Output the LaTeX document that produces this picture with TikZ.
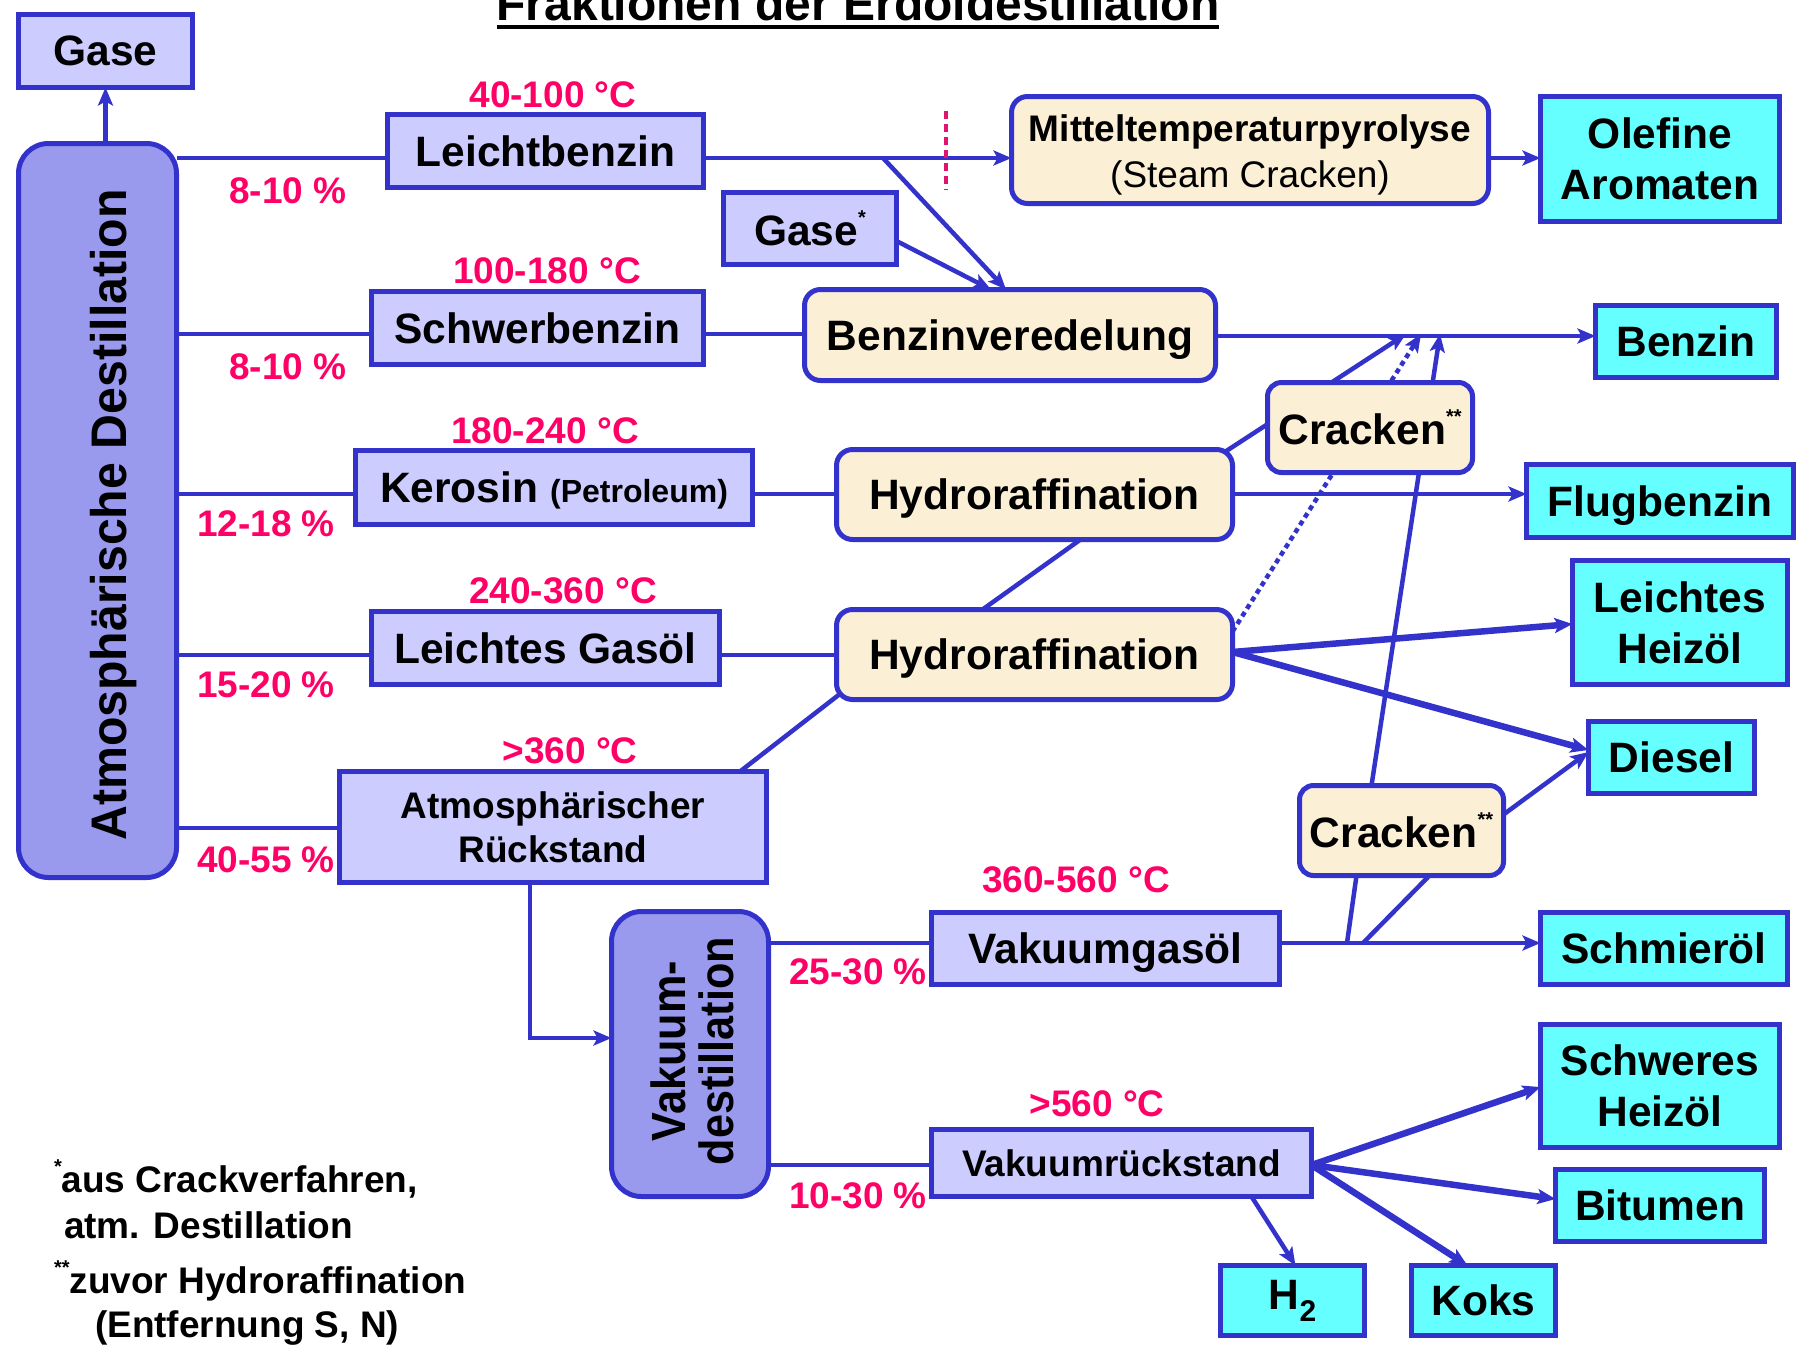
\documentclass[tikz,border=0pt]{standalone}
\usepackage{fontspec}
\usepackage{graphicx}
\setmainfont{Liberation Sans}
\usetikzlibrary{arrows.meta}
\pgfdeclarelayer{bg}
\pgfsetlayers{bg,main}

\definecolor{edge}{RGB}{51,51,204}
\definecolor{lav}{RGB}{204,204,255}
\definecolor{lavdark}{RGB}{153,153,238}
\definecolor{cream}{RGB}{251,239,214}
\definecolor{prodcol}{RGB}{102,255,255}
\definecolor{hot}{RGB}{255,0,102}
\definecolor{pinkdot}{RGB}{222,20,110}

\newcommand\supstar[1]{\raisebox{0.5em}{\fontsize{20}{20}\selectfont #1}}

\begin{document}
\begin{tikzpicture}[x=1pt,y=-1pt,
  every node/.style={inner sep=0pt, outer sep=0pt},
  box/.style={draw=edge, line width=5pt, align=center,
              font=\fontsize{42.5}{51}\selectfont\bfseries},
  frac/.style={box, fill=lav},
  proc/.style={box, fill=cream, rounded corners=16pt},
  prodbox/.style={box, fill=prodcol},
  flat/.style={text depth=0pt},
  column/.style={draw=edge, line width=5pt, fill=lavdark, rounded corners=30pt},
  txtM/.style={font=\fontsize{37}{44}\selectfont\bfseries},
  lbl/.style={text=hot, font=\fontsize{37}{44}\selectfont\bfseries},
  ln/.style={draw=edge, line width=4.5pt},
  lnT/.style={draw=edge, line width=6.5pt},
  tip/.style={-{Stealth[length=18pt,width=15pt,inset=4pt]}},
  arr/.style={ln, tip},
  arrT/.style={lnT, tip}
]
\useasboundingbox (0,0) rectangle (1798,1350);
\clip (0,0) rectangle (1798,1350);

% title
\node[anchor=base, font=\fontsize{48}{56}\selectfont\bfseries] (title) at (858,20)
  {Fraktionen der Erdöldestillation};
\draw[line width=3.5pt] ([yshift=-7pt]title.base west) -- ([yshift=-7pt]title.base east);

% distillation columns
\node[column, minimum width=158pt, minimum height=734pt] (adest) at (97.5,510.5) {};
\node[rotate=90, font=\fontsize{50}{58}\selectfont\bfseries] (adesttxt) at (114,515)
  {\scalebox{0.965}[1]{Atmosphärische Destillation}};
\node[column, minimum width=157pt, minimum height=285pt] (vak) at (690,1054) {};
\node[rotate=90, align=center, font=\fontsize{48}{48}\selectfont\bfseries] (vaktxt) at (692,1051)
  {\scalebox{0.9}[1]{Vakuum-}\\\scalebox{0.9}[1]{destillation}};

% gases at the top of the column
\node[frac, minimum width=174pt, minimum height=73pt, yshift=-2pt] (gasetop) at (105.5,49) {Gase};

% fractions of the atmospheric distillation
\node[frac, minimum width=316pt, minimum height=73pt] (leicht) at (545.5,151) {Leichtbenzin};
\node[frac, minimum width=332pt, minimum height=73pt] (schwer) at (537.5,328) {Schwerbenzin};
\node[frac, flat, minimum width=397pt, minimum height=74pt] (kero) at (554,487.5)
  {Kerosin {\fontsize{32}{38}\selectfont (Petroleum)}};
\node[frac, minimum width=348pt, minimum height=73pt] (lgas) at (545.5,648) {Leichtes Gasöl};
\node[frac, txtM, minimum width=427pt, minimum height=111pt] (atmr) at (553,827)
  {Atmosphärischer\\Rückstand};
\node[frac, minimum width=173pt, minimum height=72pt] (gstar) at (810,228.5) {Gase\supstar{*}};

% vacuum fractions
\node[frac, flat, minimum width=348pt, minimum height=72pt] (vgas) at (1105.5,948.5) {Vakuumgasöl};
\node[frac, txtM, minimum width=380pt, minimum height=67pt] (vrueck) at (1121.5,1163) {Vakuumrückstand};

% processes
\node[proc, minimum width=477pt, minimum height=107pt] (pyro) at (1250,150) {};
\node[txtM, align=center] (pyrotxt) at (1250,155)
  {Mitteltemperaturpyrolyse\\[2pt]\mdseries (Steam Cracken)};
\node[proc, flat, minimum width=411pt, minimum height=91pt] (bveredel) at (1010,335) {Benzinveredelung};
\node[proc, flat, minimum width=396pt, minimum height=90pt] (hydroA) at (1034.5,494.5) {Hydroraffination};
\node[proc, flat, minimum width=396pt, minimum height=90pt] (hydroB) at (1034.5,654.5) {Hydroraffination};
\node[proc, rounded corners=14pt, minimum width=205pt, minimum height=90pt] (crackA) at (1370,427.5) {Cracken\supstar{**}};
\node[proc, rounded corners=14pt, minimum width=204pt, minimum height=90pt] (crackB) at (1401.5,830.5) {Cracken\supstar{**}};

% products
\node[prodbox, minimum width=239pt, minimum height=125pt] (olef) at (1660,159) {Olefine\\Aromaten};
\node[prodbox, minimum width=181pt, minimum height=72pt] (benzin) at (1686,341.5) {Benzin};
\node[prodbox, flat, minimum width=267pt, minimum height=73pt] (flug) at (1660,501) {Flugbenzin};
\node[prodbox, minimum width=215pt, minimum height=124pt] (lheiz) at (1680,622.5) {Leichtes\\Heizöl};
\node[prodbox, minimum width=166pt, minimum height=72pt] (diesel) at (1671.5,757.5) {Diesel};
\node[prodbox, minimum width=247pt, minimum height=72pt] (schmier) at (1664,948.5) {Schmieröl};
\node[prodbox, minimum width=239pt, minimum height=123pt] (sheiz) at (1660,1086) {Schweres\\Heizöl};
\node[prodbox, minimum width=209pt, minimum height=72pt] (bitumen) at (1660,1205.5) {Bitumen};
\node[prodbox, minimum width=144pt, minimum height=70pt] (htwo) at (1292.5,1300.5)
  {H\raisebox{-0.28em}{\fontsize{30}{30}\selectfont 2}};
\node[prodbox, minimum width=144pt, minimum height=70pt] (koks) at (1483.5,1300.5) {Koks};

% boiling ranges and yields
\node[lbl] (t1) at (553,95) {40-100 °C};
\node[lbl] (p1) at (288,191) {8-10 \%};
\node[lbl] (t2) at (547,271) {100-180 °C};
\node[lbl] (p2) at (288,367) {8-10 \%};
\node[lbl] (t3) at (545,431) {180-240 °C};
\node[lbl] (p3) at (266,524) {12-18 \%};
\node[lbl] (t4) at (563,591) {240-360 °C};
\node[lbl] (p4) at (266,685) {15-20 \%};
\node[lbl] (t5) at (570,751) {>360 °C};
\node[lbl] (p5) at (266,860) {40-55 \%};
\node[lbl] (t6) at (1076,880) {360-560 °C};
\node[lbl] (p6) at (858,972) {25-30 \%};
\node[lbl] (t7) at (1097,1104) {>560 °C};
\node[lbl] (p7) at (858,1196) {10-30 \%};

% footnotes
\node[txtM, anchor=base west] (fn1) at (54,1192) {\supstar{*}aus Crackverfahren,};
\node[txtM, anchor=base west] (fn2) at (64,1238) {atm. Destillation};
\node[txtM, anchor=base west] (fn3) at (54,1293) {\supstar{**}zuvor Hydroraffination};
\node[txtM, anchor=base west] (fn4) at (95,1337) {(Entfernung S, N)};

% free ends on the gasoline stream
\coordinate (bzA) at (1406,334);
\coordinate (bzB) at (1421,334);
\coordinate (bzC) at (1440,334);
\coordinate (lbsplit) at (883,158);
\coordinate (vgA) at (1347,943);
\coordinate (vgB) at (1363,943);

\begin{pgfonlayer}{bg}
  % column to gases
  \draw[arr] (adest.north -| gasetop.south) -- (gasetop.south);
  % column draw-offs
  \draw[ln] (adest.east |- 0,158) -- (leicht.west |- 0,158);
  \draw[ln] (adest.east |- 0,334) -- (schwer.west |- 0,334);
  \draw[ln] (adest.east |- 0,494) -- (kero.west |- 0,494);
  \draw[ln] (adest.east |- 0,655) -- (lgas.west |- 0,655);
  \draw[ln] (adest.east |- 0,828) -- (atmr.west |- 0,828);
  % light naphtha
  \draw[arr] (leicht.east |- 0,158) -- (pyro.west |- 0,158);
  \draw[arr] (pyro.east |- 0,158) -- (olef.west |- 0,158);
  \draw[arr] (lbsplit) -- ([xshift=-4pt]bveredel.north);
  \draw[arr] (gstar.east |- 0,241) -- ([xshift=-19pt]bveredel.north);
  % heavy naphtha
  \draw[ln] (schwer.east |- 0,334) -- (bveredel.west |- 0,334);
  \draw[arr] (bveredel.east |- 0,336) -- (benzin.west |- 0,336);
  % kerosene
  \draw[ln] (kero.east |- 0,494) -- (hydroA.west |- 0,494);
  \draw[arr] (hydroA.east |- 0,494) -- (flug.west |- 0,494);
  % light gas oil
  \draw[ln] (lgas.east |- 0,655) -- (hydroB.west |- 0,655);
  \draw[ln] ([xshift=46pt]hydroA.south) -- ([xshift=-52pt]hydroB.north);
  \draw[ln] ([xshift=187pt]atmr.north) -- ([xshift=4pt,yshift=6pt]hydroB.south west);
  \draw[arrT] (hydroB.east |- 0,652) -- (lheiz.west |- 0,624);
  \draw[arrT] (hydroB.east |- 0,652) -- (diesel.west |- 0,750);
  % streams to the gasoline pool
  \draw[arr] ([xshift=-7pt,yshift=-2pt]hydroA.north east) -- (bzA);
  \draw[arr, dash pattern=on 5pt off 4pt] ([yshift=-22pt]hydroB.north east) -- (bzB);
  \draw[arr] ([xshift=-30pt]crackB.north) -- (bzC);
  \draw[arr] ([yshift=16pt]crackB.east) -- (diesel.west |- 0,752);
  % atmospheric residue to vacuum distillation
  \draw[arr] (atmr.south -| 530,0) |- (vak.west |- 0,1038);
  % vacuum gas oil
  \draw[ln] (vak.east |- 0,943) -- (vgas.west |- 0,943);
  \draw[arr] (vgas.east |- 0,943) -- (schmier.west |- 0,943);
  \draw[ln] (vgA) -- ([xshift=-45pt]crackB.south);
  \draw[ln] (vgB) -- ([xshift=28pt]crackB.south);
  % vacuum residue
  \draw[ln] (vak.east |- 0,1165) -- (vrueck.west |- 0,1165);
  \draw[arrT] (vrueck.east |- 0,1165) -- (sheiz.west |- 0,1087);
  \draw[arrT] (vrueck.east |- 0,1165) -- (bitumen.west |- 0,1199);
  \draw[arrT] (vrueck.east |- 0,1165) -- ([xshift=-16pt]koks.north);
  \draw[arr] ([xshift=130pt]vrueck.south) -- ([xshift=3pt]htwo.north);
  % marker on the light naphtha line
  \draw[pinkdot, line width=4pt, dash pattern=on 8pt off 5pt] (946,111) -- (946,190);
\end{pgfonlayer}
\end{tikzpicture}
\end{document}
